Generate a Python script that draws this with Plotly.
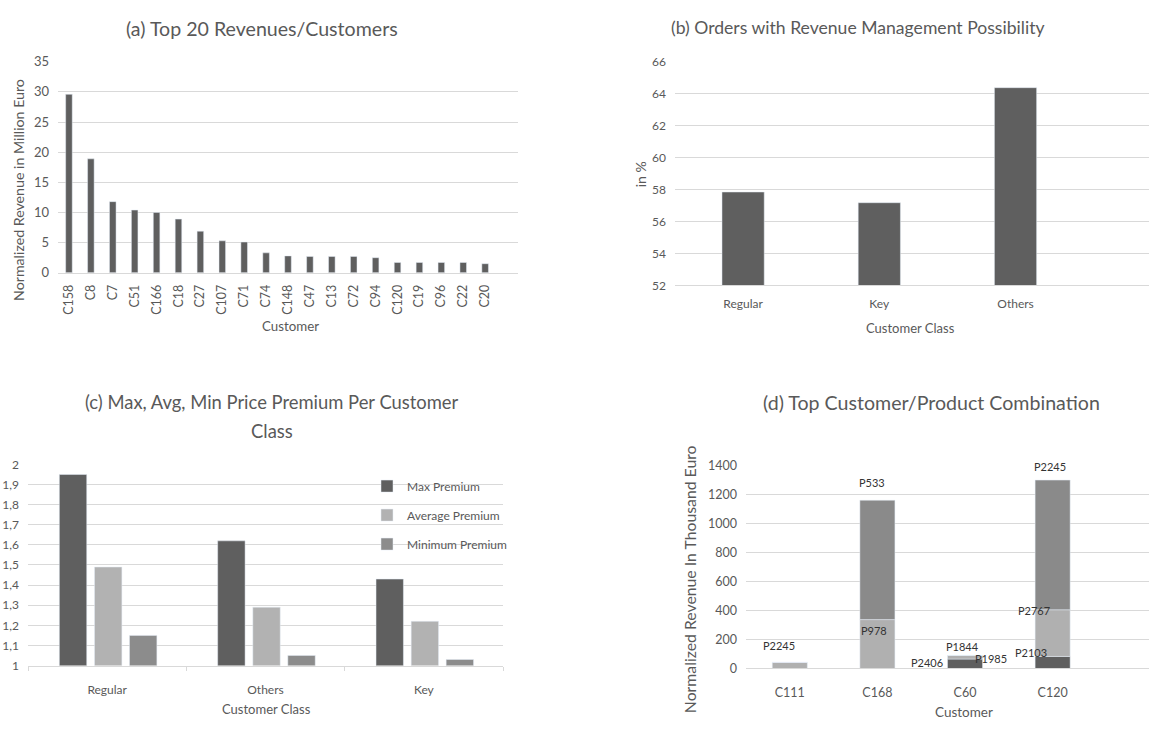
import plotly.graph_objects as go

W, H = 1149, 729

# (a) Top 20 revenues per customer (million euro)
top20_customers = ["C158", "C8", "C7", "C51", "C166", "C18", "C27", "C107", "C71", "C74",
                   "C148", "C47", "C13", "C72", "C94", "C120", "C19", "C96", "C22", "C20"]
top20_revenue = [29.6, 18.9, 11.8, 10.4, 10.0, 8.9, 6.9, 5.3, 5.1, 3.3,
                 2.8, 2.7, 2.7, 2.7, 2.5, 1.7, 1.7, 1.7, 1.7, 1.5]

# (b) Share of orders with revenue management possibility (%)
classes_b = ["Regular", "Key", "Others"]
rm_share = [57.85, 57.18, 64.38]

# (c) Price premium per customer class
classes_c = ["Regular", "Others", "Key"]
max_premium = [1.95, 1.62, 1.43]
avg_premium = [1.49, 1.29, 1.22]
min_premium = [1.15, 1.05, 1.03]

# (d) Top customer/product combinations (thousand euro), stacked segments
combo_customers = ["C111", "C168", "C60", "C120"]
seg_bottom = [0, 0, 65, 83]
seg_middle = [42, 337, 25, 322]
seg_top = [0, 823, 0, 894]
# product label: customer index, product, segment whose top it sits at, pixel shifts
product_labels = [
    (0, "P2245", "middle", -11, 17),
    (1, "P533", "top", -5, 18),
    (1, "P978", "middle", -3, -11),
    (2, "P2406", "bottom", -38, -3),
    (2, "P1844", "middle", -3, 9),
    (2, "P1985", "middle", 26, -3),
    (3, "P2245", "top", -3, 14),
    (3, "P2767", "middle", -19, -1),
    (3, "P2103", "bottom", -22, 4),
]

DARK, LIGHT, MID = "#5f5f5f", "#b0b0b0", "#8a8a8a"
TXT = "#595959"
GRID = "#d9d9d9"
FONT = "Lato"


def xdom(left, right):
    return [left / W, min(right / W, 1.0)]


def ydom(top, bottom):
    return [1 - bottom / H, 1 - top / H]


fig = go.Figure()

# (a)
fig.add_trace(go.Bar(x=top20_customers, y=top20_revenue, width=0.3,
                     marker_color=DARK, xaxis="x", yaxis="y", showlegend=False))
# (b)
fig.add_trace(go.Bar(x=classes_b, y=rm_share, width=0.31,
                     marker_color=DARK, xaxis="x2", yaxis="y2", showlegend=False))
# (c)
for name, vals, col, off in [("Max Premium", max_premium, DARK, -0.302),
                             ("Average Premium", avg_premium, "#b2b2b2", -0.080),
                             ("Minimum Premium", min_premium, "#8c8c8c", 0.141)]:
    fig.add_trace(go.Bar(x=classes_c, y=vals, width=0.173, offset=off, name=name,
                         legendgroup=name, marker_color=col, xaxis="x3", yaxis="y3"))
# (d)
base_mid = list(seg_bottom)
base_top = [b + m for b, m in zip(seg_bottom, seg_middle)]
fig.add_trace(go.Bar(x=combo_customers, y=seg_bottom, width=0.4, marker_color=DARK,
                     xaxis="x4", yaxis="y4", showlegend=False))
fig.add_trace(go.Bar(x=combo_customers, y=seg_middle, base=base_mid, width=0.4,
                     marker_color=LIGHT, xaxis="x4", yaxis="y4", showlegend=False))
fig.add_trace(go.Bar(x=combo_customers, y=seg_top, base=base_top, width=0.4,
                     marker_color=MID, xaxis="x4", yaxis="y4", showlegend=False))


def tf(size):
    return dict(family=FONT, size=size, color=TXT)


def yaxis(dom, rng, dtick, anchor, size=12):
    return dict(domain=dom, range=rng, dtick=dtick, showgrid=True, gridcolor=GRID,
                gridwidth=1, zeroline=False, showline=False, ticks="",
                tickfont=tf(size), ticklabelstandoff=8, anchor=anchor, fixedrange=True)


def xaxis(dom, rng, anchor, size=12, **kw):
    d = dict(domain=dom, range=rng, type="category", showgrid=False, showline=True,
             linecolor=GRID, linewidth=1, ticks="", tickfont=tf(size), anchor=anchor,
             fixedrange=True)
    d.update(kw)
    return d


layout = dict(
    width=W, height=H, margin=dict(l=0, r=0, t=0, b=0),
    paper_bgcolor="white", plot_bgcolor="white", barmode="overlay",
    separators=", ",
    font=dict(family=FONT, color=TXT),
    xaxis=xaxis(xdom(58, 518), [-0.5, 20.5], "y", 12.5, tickangle=-90, ticklabelstandoff=6),
    yaxis=yaxis(ydom(55, 270.7), [0, 35], 5, "x", 13),
    xaxis2=xaxis(xdom(675, 1160), [-0.5, 2.98], "y2", 12, ticklabelstandoff=7),
    yaxis2=yaxis(ydom(55, 283.7), [52, 66], 2, "x2", 12),
    xaxis3=xaxis(xdom(28, 503), [-0.5, 2.5], "y3", 12, ticks="outside", tickson="boundaries",
                 ticklen=4, tickcolor=GRID, ticklabelstandoff=13),
    yaxis3=yaxis(ydom(466.7, 672.3), [1, 2], 0.1, "x3", 12),
    xaxis4=xaxis(xdom(746, 1160), [-0.5, 4.1], "y4", 12.5, ticklabelstandoff=13),
    yaxis4=yaxis(ydom(467.7, 675.3), [0, 1400], 200, "x4", 12.5),
    legend=dict(x=367 / W, y=1 - 474 / H, xanchor="left", yanchor="top",
                bgcolor="rgba(0,0,0,0)", font=tf(12),
                tracegroupgap=10, itemwidth=30),
    showlegend=True,
)

ann = []


def text_at(px, py, text, size, angle=0):
    ann.append(dict(x=px / W, y=1 - py / H, xref="paper", yref="paper", text=text,
                    showarrow=False, xanchor="center", yanchor="middle", textangle=angle,
                    font=tf(size)))


# panel titles
text_at(262, 21, "(a) Top 20 Revenues/Customers", 19.6)
text_at(858, 20, "(b) Orders with Revenue Management Possibility", 17.6)
text_at(272, 403, "(c) Max, Avg, Min Price Premium Per Customer", 18.4)
text_at(272, 433, "Class", 18.4)
text_at(931, 403, "(d) Top Customer/Product Combination", 19.6)

# axis titles
text_at(19, 186, "Normalized Revenue in Million Euro", 14.2, -90)
text_at(290, 325, "Customer", 13.3)
text_at(640, 170, "in %", 14, -90)
text_at(910, 327, "Customer Class", 13)
text_at(266, 717, "Customer Class", 13)
text_at(689, 584, "Normalized Revenue In Thousand Euro", 15.8, -90)
text_at(964, 720, "Customer", 13.5)

# product labels on the stacked bars
for ci, prod, seg, dx, dy in product_labels:
    if seg == "bottom":
        yv = seg_bottom[ci]
    elif seg == "middle":
        yv = seg_bottom[ci] + seg_middle[ci]
    else:
        yv = seg_bottom[ci] + seg_middle[ci] + seg_top[ci]
    ann.append(dict(x=combo_customers[ci], y=yv, xref="x4", yref="y4", text=prod,
                    showarrow=False, xanchor="center", yanchor="middle",
                    xshift=dx, yshift=dy,
                    font=dict(family=FONT, size=11, color="#333333")))

layout["annotations"] = ann
fig.update_layout(**layout)
fig.write_html("out.html")
